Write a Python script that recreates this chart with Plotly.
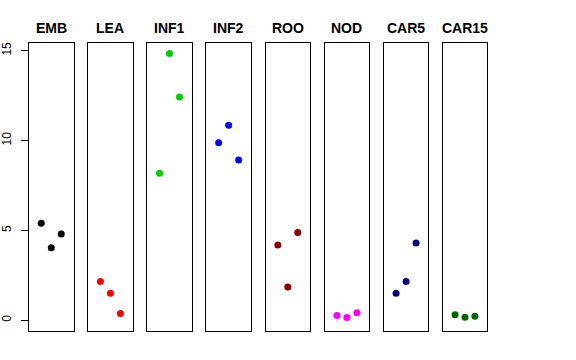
import plotly.graph_objects as go

tissues = ["EMB", "LEA", "INF1", "INF2", "ROO", "NOD", "CAR5", "CAR15"]
colors = ["#000000", "#FF0000", "#00CD00", "#0000FF", "#8B0000", "#FF00FF", "#000080", "#006400"]
replicate_pos = [-1, 0, 1]
emb = [5.40, 4.04, 4.80]
lea = [2.15, 1.50, 0.37]
inf1 = [8.18, 14.84, 12.43]
inf2 = [9.88, 10.85, 8.92]
roo = [4.19, 1.85, 4.88]
nod = [0.26, 0.15, 0.41]
car5 = [1.50, 2.15, 4.30]
car15 = [0.30, 0.17, 0.22]
values = [emb, lea, inf1, inf2, roo, nod, car5, car15]
y_ticks = [0, 5, 10, 15]

W, H = 576, 360
ml, mr, mt, mb = 29, 89, 43, 29
pw = W - ml - mr
pitch = 59.14
panel_w = 44.5

fig = go.Figure()
layout = dict(
    width=W, height=H,
    margin=dict(l=ml, r=mr, t=mt, b=mb, pad=0, autoexpand=False),
    paper_bgcolor="white", plot_bgcolor="white",
    showlegend=False,
    font=dict(family="Liberation Sans, Arial, sans-serif", color="black"),
)
annotations = []
for i, (name, col, vals) in enumerate(zip(tissues, colors, values)):
    xn = "x" if i == 0 else f"x{i+1}"
    yn = "y" if i == 0 else f"y{i+1}"
    fig.add_trace(go.Scatter(
        x=replicate_pos, y=vals, mode="markers",
        marker=dict(color=col, size=7, line=dict(width=0)),
        xaxis=xn, yaxis=yn, hoverinfo="skip",
    ))
    left = (i * pitch) / pw
    right = (i * pitch + panel_w) / pw
    xkey = "xaxis" if i == 0 else f"xaxis{i+1}"
    ykey = "yaxis" if i == 0 else f"yaxis{i+1}"
    layout[xkey] = dict(
        domain=[left, min(right, 1.0)], range=[-2.225, 2.225],
        showgrid=False, zeroline=False, showticklabels=False, ticks="",
        showline=True, linecolor="black", linewidth=1, mirror=True,
        anchor=yn, fixedrange=True, automargin=False,
    )
    ydict = dict(
        range=[-0.60, 15.43], showgrid=False, zeroline=False,
        showline=True, linecolor="black", linewidth=1, mirror=True,
        anchor=xn, fixedrange=True, automargin=False,
    )
    if i == 0:
        ydict.update(
            tickvals=y_ticks, ticktext=[str(v) for v in y_ticks],
            ticks="outside", ticklen=7, tickcolor="black", tickwidth=1,
            tickangle=-90, tickfont=dict(size=12, color="black"),
            ticklabelstandoff=5,
            showticklabels=True,
        )
    else:
        ydict.update(showticklabels=False, ticks="")
    layout[ykey] = ydict
    annotations.append(dict(
        text=f"<b>{name}</b>", xref="paper", yref="paper",
        x=(left + right) / 2, y=1.0, yshift=5, xanchor="center", yanchor="bottom",
        showarrow=False, font=dict(size=14, color="black"),
    ))
layout["annotations"] = annotations
fig.update_layout(**layout)
fig.write_html("out.html", config={"displayModeBar": False},
               post_script="document.body.style.margin='0';")
